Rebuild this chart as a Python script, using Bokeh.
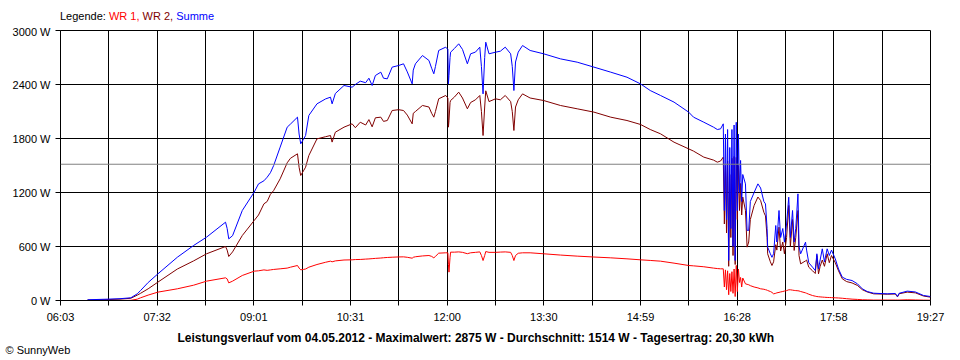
from bokeh.plotting import figure
from bokeh.models import Range1d, FixedTicker, PrintfTickFormatter, Span, Title, Div
from bokeh.layouts import column
from bokeh.embed import file_html
from bokeh.resources import INLINE

# ---- data ----
minutes = [388, 407, 418, 428, 434, 437, 444, 453, 471, 486, 498, 515.5, 517, 518.5, 522, 531, 542, 546, 551, 554,
           557, 560, 566, 572.5, 575.5, 582, 583.5, 585, 587.5, 589.5, 592.5, 600, 608, 612.5, 614, 617, 625, 632.5,
           635.5, 640, 645, 648, 651, 654, 659, 661.5, 665, 669.5, 675.5, 680, 683.5, 688, 689, 691, 697.5, 703.5,
           706, 708, 709.5, 712.5, 719, 721, 721.5, 722, 723, 723.5, 727, 731, 734.5, 739, 742, 746.5, 750.5, 752,
           753.5, 755, 756, 759, 765, 769.5, 774, 779, 780.5, 782, 783.5, 786, 790, 797, 809.5, 825, 840.5, 856,
           871.5, 886.5, 899, 908, 917.5, 930, 943.5, 948, 957.5, 966.5, 970, 973, 975.5,
           976.5, 977.5, 978.5, 979.5, 980.5, 981.5, 982.5, 983.5, 984.5, 985.5, 986.5, 987.5, 988.5, 989.5, 990.5,
           991.5, 992.5, 993.5, 996, 997.5, 999, 1000.5, 1004, 1007.5, 1010, 1013, 1014.5, 1016, 1016.5, 1019,
           1020.5, 1022, 1024, 1025, 1027, 1028.5, 1030.5, 1032, 1034, 1036, 1037.5, 1039.5, 1041, 1042.5, 1044.5,
           1045.5, 1047, 1051.5, 1052.5, 1054.5, 1058, 1060.5, 1062, 1063.5, 1065, 1067, 1069, 1071.5, 1073.5,
           1075.5, 1079, 1082, 1085.5, 1089.5, 1094.5, 1099.5, 1104, 1108.5, 1114.5, 1127, 1134.5, 1136.5, 1138,
           1145.5, 1153, 1160.5, 1167]

wr1 = [0, 0, 0, 2, 15, 30, 60, 93, 130, 170, 215, 252, 240, 196, 215, 278, 326, 330, 340, 335,
       340, 345, 352, 360, 370, 389, 360, 341, 345, 350, 370, 400, 425, 437, 430, 440, 450, 452,
       455, 456, 460, 462, 465, 468, 472, 475, 478, 481, 484, 485, 480, 470, 480, 486, 495, 500,
       490, 474, 490, 526, 530, 530, 400, 315, 480, 537, 537, 540, 535, 520, 530, 535, 540, 500,
       444, 500, 544, 535, 535, 538, 540, 535, 500, 444, 500, 525, 530, 530, 519, 505, 493, 483,
       474, 463, 452, 445, 437, 415, 389, 385, 375, 360, 355, 352, 352,
       150, 340, 120, 330, 64, 300, 100, 320, 80, 350, 44, 390, 100, 350, 200,
       256, 150, 250, 185, 180, 175, 165, 150, 140, 130, 125, 120, 115, 111, 100,
       90, 74, 80, 85, 90, 95, 100, 105, 110, 119, 119, 115, 112, 110, 108,
       106, 100, 85, 80, 70, 55, 48, 44, 42, 40, 38, 36, 34, 33,
       32, 30, 28, 25, 20, 15, 12, 8, 7, 5, 5, 5, 5, 5,
       8, 6, 4, 3]

wr2 = [5, 10, 15, 25, 60, 80, 130, 204, 350, 440, 519, 600, 560, 489, 540, 722, 889, 950, 1074, 1100,
       1180, 1222, 1352, 1530, 1580, 1630, 1480, 1389, 1440, 1481, 1611, 1796, 1820, 1833, 1760, 1870, 1926, 1963,
       1920, 1981, 1950, 2010, 1930, 2030, 2037, 1990, 2000, 2111, 2120, 2111, 2060, 1963, 2080, 2100, 2167, 2150,
       2080, 2037, 2100, 2241, 2278, 2250, 1926, 2000, 2200, 2222, 2260, 2315, 2250, 2130, 2200, 2230, 2278, 2100,
       1833, 2150, 2330, 2210, 2241, 2230, 2278, 2210, 2100, 1889, 2150, 2230, 2296, 2250, 2222, 2167, 2130, 2093,
       2037, 2000, 1956, 1900, 1852, 1759, 1685, 1660, 1593, 1560, 1537, 1550, 1593,
       850, 1500, 750, 1550, 380, 1400, 700, 1580, 500, 1600, 400, 1590, 900, 1500, 1000,
       1300, 950, 1150, 1000, 593, 650, 900, 1056, 1150, 1111, 980, 940, 700, 519, 430,
       389, 430, 620, 560, 815, 550, 650, 519, 700, 1056, 600, 900, 556, 700, 1000,
       500, 407, 440, 450, 370, 330, 300, 500, 296, 380, 450, 380, 519, 420,
       500, 420, 330, 241, 210, 195, 167, 120, 95, 74, 70, 72, 40, 75,
       93, 85, 50, 37]

summe = [8, 15, 20, 30, 75, 111, 200, 296, 481, 611, 704, 870, 800, 685, 720, 1000, 1204, 1296, 1330, 1370,
         1420, 1500, 1704, 1926, 1960, 2037, 1850, 1741, 1790, 1833, 2056, 2185, 2240, 2259, 2185, 2300, 2389, 2370,
         2400, 2437, 2420, 2470, 2389, 2500, 2537, 2470, 2463, 2593, 2611, 2630, 2540, 2407, 2560, 2630, 2722, 2667,
         2580, 2519, 2600, 2778, 2815, 2790, 2407, 2500, 2700, 2759, 2800, 2852, 2790, 2630, 2741, 2760, 2815, 2600,
         2296, 2700, 2870, 2741, 2759, 2770, 2815, 2741, 2600, 2333, 2650, 2760, 2833, 2778, 2741, 2685, 2648, 2593,
         2537, 2481, 2407, 2333, 2278, 2204, 2093, 2037, 1981, 1926, 1900, 1907, 1963,
         1000, 1850, 900, 1900, 444, 1700, 800, 1900, 600, 1950, 444, 1980, 1000, 1850, 1200,
         1556, 1100, 1400, 1296, 780, 778, 1100, 1200, 1296, 1250, 1100, 1074, 800, 593, 519,
         480, 520, 833, 650, 1000, 700, 800, 648, 850, 1148, 700, 1000, 650, 800, 1185,
         600, 519, 648, 560, 420, 370, 333, 519, 350, 450, 574, 430, 574, 500,
         560, 463, 350, 259, 235, 222, 185, 130, 100, 81, 74, 78, 45, 80,
         104, 95, 56, 44]

average_w = 1514

# axis: 06:03 .. 19:27, 18 grid intervals (in seconds since midnight)
x_start_s = 21780
x_end_s = 70020
x_grid_s = [21780, 24460, 27140, 29820, 32500, 35180, 37860, 40540, 43220, 45900, 48580,
            51260, 53940, 56620, 59300, 61980, 64660, 67340, 70020]
x_tick_labels = ["06:03", "", "07:32", "", "09:01", "", "10:31", "", "12:00", "", "13:30",
                 "", "14:59", "", "16:28", "", "17:58", "", "19:27"]
y_ticks = [0, 600, 1200, 1800, 2400, 3000]

legend_items = [("Legende:", "#000000"), ("WR 1,", "#ff0000"), ("WR 2,", "#800000"), ("Summe", "#0000ff")]
title_text = ("Leistungsverlauf vom 04.05.2012 - Maximalwert: 2875 W - "
              "Durchschnitt: 1514 W - Tagesertrag: 20,30 kWh")
copyright_text = "\u00a9 SunnyWeb"

FONT = "Liberation Sans"

xs = [m * 60 for m in minutes]

# ---- legend line as a Div above the figure ----
spans = " ".join(f'<span style="color:{c}">{t}</span>' for t, c in legend_items)
legend_html = (f'<div style="position:absolute; left:60px; top:10px; white-space:nowrap; '
               f'font-family:\'{FONT}\'; font-size:11px; line-height:13px;">{spans}</div>')
legend_div = Div(text=legend_html, width=960, height=25, margin=(0, 0, 0, 0))

p = figure(width=960, height=335, output_backend="svg", toolbar_location=None,
           x_range=Range1d(x_start_s, x_end_s), y_range=Range1d(0, 3000), margin=(0, 0, 0, 0))
p.min_border_left = 60
p.min_border_right = 30
p.min_border_top = 5
p.min_border_bottom = 60
p.background_fill_color = "white"
p.border_fill_color = "white"
p.outline_line_color = "black"
p.outline_line_width = 1
p.outline_line_alpha = 1

xt = FixedTicker(ticks=x_grid_s, minor_ticks=[])
yt = FixedTicker(ticks=y_ticks, minor_ticks=[])
p.xaxis.ticker = xt
p.yaxis.ticker = yt
p.xgrid.ticker = xt
p.ygrid.ticker = yt
p.xaxis.major_label_overrides = {t: l for t, l in zip(x_grid_s, x_tick_labels)}
p.yaxis.formatter = PrintfTickFormatter(format="%d W")

for ax in (p.xaxis, p.yaxis):
    ax.axis_line_color = "black"
    ax.major_tick_line_color = "black"
    ax.major_tick_out = 5
    ax.major_tick_in = 0
    ax.minor_tick_line_color = None
    ax.major_label_text_font = FONT
    ax.major_label_text_font_size = "11px"
    ax.major_label_text_color = "black"
p.xaxis.major_label_standoff = 5
p.yaxis.major_label_standoff = 5

for g in (p.xgrid, p.ygrid):
    g.grid_line_color = "black"
    g.grid_line_alpha = 1
    g.grid_line_width = 1

p.add_layout(Span(location=average_w, dimension="width", line_color="#808080", line_width=1))

p.line(xs, wr1, line_color="#ff0000", line_width=1)
p.line(xs, wr2, line_color="#800000", line_width=1)
p.line(xs, summe, line_color="#0000ff", line_width=1)

p.add_layout(Title(text=title_text, align="left", offset=117, standoff=6,
                   text_font=FONT, text_font_size="12px", text_font_style="bold",
                   text_color="black"), "below")
p.add_layout(Title(text=copyright_text, align="left", offset=-55, standoff=-11,
                   text_font=FONT, text_font_size="11px", text_font_style="normal",
                   text_color="black"), "below")

layout = column(legend_div, p, spacing=0)
open("out.html", "w").write(file_html(layout, INLINE))
